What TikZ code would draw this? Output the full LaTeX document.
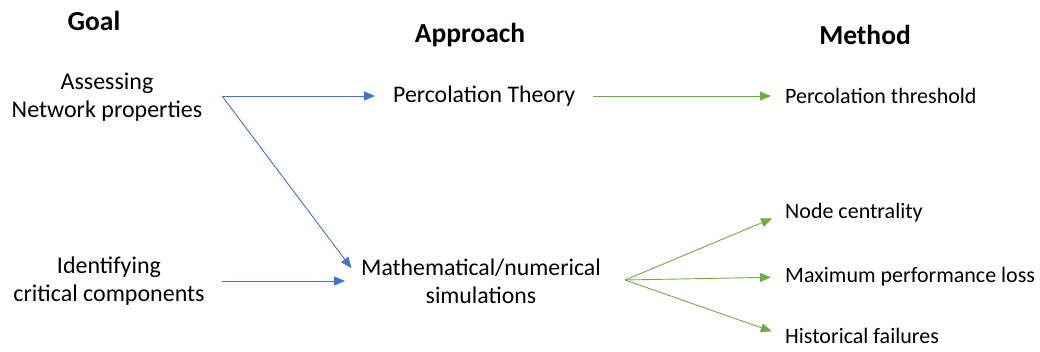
\documentclass[tikz,border=0pt]{standalone}
\usepackage{fontspec}
\setmainfont{Carlito}
\usetikzlibrary{arrows.meta}
\definecolor{arrblue}{HTML}{4472C4}
\definecolor{arrgreen}{HTML}{70AD47}
\begin{document}
\begin{tikzpicture}[x=1pt,y=1pt,
  gtxt/.style={font=\fontsize{24}{27.5}\selectfont, align=center, inner sep=0pt},
  atxt/.style={font=\fontsize{23.8}{28}\selectfont, align=center, inner sep=0pt},
  mtxt/.style={font=\fontsize{22}{27}\selectfont, align=center, inner sep=0pt},
  head/.style={font=\fontsize{27.5}{30}\selectfont\bfseries, inner sep=0pt},
  bluearr/.style={draw=arrblue, line width=0.9pt, -{Triangle[length=11pt,width=9pt]}},
  greenarr/.style={draw=arrgreen, line width=0.9pt, -{Triangle[length=11pt,width=9pt]}}]
\useasboundingbox (0,0) rectangle (1040,-351);
% headings
\node[head] (hgoal) at (94,-21) {Goal};
\node[head] (happ) at (470,-35) {Approach};
\node[head] (hmeth) at (865,-35) {Method};
% goals
\node[gtxt] (g1) at (107,-97) {Assessing\\Network properties};
\node[gtxt] (g2) at (109,-281) {Identifying\\critical components};
% approaches
\node[atxt, anchor=west] (pt) at (393,-96) {Percolation Theory};
\node[atxt, anchor=west] (ms) at (361,-281) {Mathematical/numerical\\simulations};
% methods
\node[mtxt, anchor=west] (m0) at (785,-96) {Percolation threshold};
\node[mtxt, anchor=west] (m1) at (785,-213) {Node centrality};
\node[mtxt, anchor=west] (m2) at (785,-277) {Maximum performance loss};
\node[mtxt, anchor=west] (m3) at (785,-336) {Historical failures};
% branch points
\coordinate (b1) at (222,-96);
\coordinate (b2) at (222,-281);
\coordinate (c1) at (593,-96);
\coordinate (c2) at (625,-280);
% blue arrows
\draw[bluearr, shorten >=18pt] (b1) -- (pt.west);
\draw[bluearr, shorten >=16pt] (b1) -- (ms.west);
\draw[bluearr, shorten >=16pt] (b2) -- (ms.west);
% green arrows
\draw[greenarr, shorten >=14pt] (c1) -- (m0.west);
\draw[greenarr, shorten >=14pt] (c2) -- (m1.west);
\draw[greenarr, shorten >=14pt] (c2) -- (m2.west);
\draw[greenarr, shorten >=14pt] (c2) -- (m3.west);
\end{tikzpicture}
\end{document}
